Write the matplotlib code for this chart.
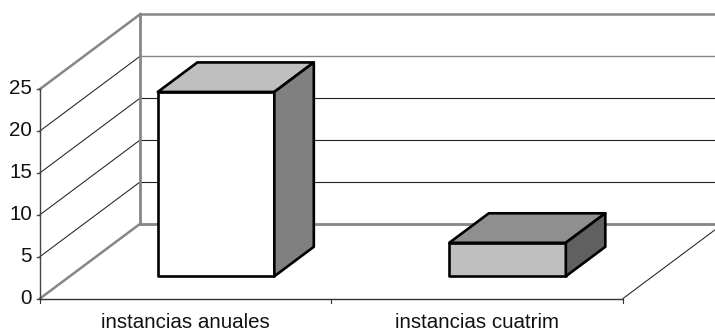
import matplotlib
matplotlib.use("Agg")
import matplotlib.pyplot as plt
from matplotlib.patches import Polygon

categorias = ["instancias anuales", "instancias cuatrim"]
valores = [22, 4]
ticks_y = [0, 5, 10, 15, 20, 25]

COLOR_PARED = "#868686"
COLOR_LINEA = "#222222"

W, H = 715, 333
PX_X = 291.5        # pixeles por categoria
PX_Y = 8.38         # pixeles por unidad
X0, Y0 = 40, 298.5  # origen del eje en pixeles

# profundidad del suelo y de las barras, en unidades de datos
FONDO_X, FONDO_Y = 100.5 / PX_X, 75 / PX_Y
BARRA_X, BARRA_Y = 39.5 / PX_X, 29.5 / PX_Y

fig = plt.figure(figsize=(W / 100, H / 100), dpi=100, facecolor="white")
plt.rcParams["font.family"] = ["Liberation Sans"]
ax = fig.add_axes([0, 0, 1, 1])
ax.set_xlim(-X0 / PX_X, (W - X0) / PX_X)
ax.set_ylim(-(H - Y0) / PX_Y, Y0 / PX_Y)
ax.axis("off")

n = len(categorias)
tope = ticks_y[-1]

# lineas de division: pared lateral y pared del fondo
for t in ticks_y[1:-1]:
    gris = t == 20
    ax.plot([0, FONDO_X], [t, t + FONDO_Y], color=COLOR_LINEA, lw=0.75, zorder=1)
    ax.plot([FONDO_X, n + FONDO_X], [t + FONDO_Y, t + FONDO_Y],
            color=COLOR_PARED if gris else COLOR_LINEA, lw=1.0 if gris else 0.8, zorder=1)

# paredes en gris
ax.plot([0, FONDO_X], [tope, tope + FONDO_Y], color=COLOR_PARED, lw=1.8, zorder=2)
ax.plot([0, FONDO_X], [0, FONDO_Y], color=COLOR_PARED, lw=1.8, zorder=2)
ax.plot([FONDO_X, FONDO_X], [FONDO_Y, tope + FONDO_Y], color=COLOR_PARED, lw=2.0, zorder=2)
ax.plot([FONDO_X, n + FONDO_X], [tope + FONDO_Y, tope + FONDO_Y], color=COLOR_PARED, lw=1.8, zorder=2)
ax.plot([FONDO_X, n + FONDO_X], [FONDO_Y, FONDO_Y], color=COLOR_PARED, lw=2.0, zorder=2)

# borde derecho del suelo
ax.plot([n, n + FONDO_X], [0, FONDO_Y], color=COLOR_LINEA, lw=0.75, zorder=1)

# ejes
ax.plot([0, 0], [0, tope], color="#444444", lw=1.0, zorder=3)
ax.plot([0, n], [0, 0], color="#333333", lw=1.0, zorder=3)
for t in ticks_y:
    ax.plot([-3 / PX_X, 0], [t, t], color="#444444", lw=1.0, zorder=3)
    ax.text(-8 / PX_X, t, str(t), ha="right", va="center", fontsize=14.8, color="#111111")
for i in range(n + 1):
    ax.plot([i, i], [0, -4 / PX_Y], color="#333333", lw=0.8, zorder=3)

# barras 3D
BASE_Y = 22.2 / PX_Y
ANCHO = 116.5 / PX_X
caras = [("#ffffff", "#bfbfbf", "#808080"), ("#bfbfbf", "#8f8f8f", "#606060")]
for i, (v, c) in enumerate(zip(valores, caras)):
    x1 = i + 0.5 - ANCHO / 2 + 0.104
    x2 = x1 + ANCHO
    y1 = BASE_Y
    y2 = BASE_Y + v
    frente = [(x1, y1), (x2, y1), (x2, y2), (x1, y2)]
    arriba = [(x1, y2), (x2, y2), (x2 + BARRA_X, y2 + BARRA_Y), (x1 + BARRA_X, y2 + BARRA_Y)]
    lado = [(x2, y1), (x2 + BARRA_X, y1 + BARRA_Y), (x2 + BARRA_X, y2 + BARRA_Y), (x2, y2)]
    for puntos, color in zip((frente, arriba, lado), c):
        ax.add_patch(Polygon(puntos, closed=True, facecolor=color, edgecolor="black",
                             lw=1.9, joinstyle="round", zorder=5))

# etiquetas de categoria
for i, nombre in enumerate(categorias):
    ax.text(i + 0.5, -(322 - Y0) / PX_Y, nombre, ha="center", va="center",
            fontsize=14.8, color="#111111")

fig.savefig("out.png", dpi=100, facecolor="white")
